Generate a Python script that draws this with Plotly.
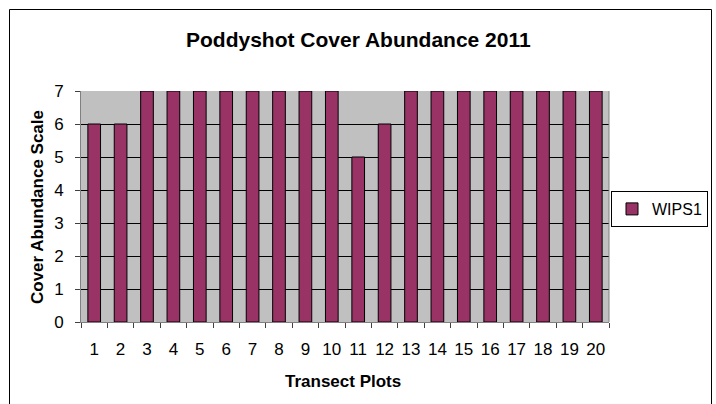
import plotly.graph_objects as go

plots = [str(i) for i in range(1, 21)]
wips1 = [6, 6, 7, 7, 7, 7, 7, 7, 7, 7, 5, 6, 7, 7, 7, 7, 7, 7, 7, 7]
y_ticks = [0, 1, 2, 3, 4, 5, 6, 7]

W, H = 716, 404
L, R, T, B = 81, 609, 91, 322
pw, ph = R - L, B - T

def px(x):
    return (x - L) / pw

def py(y):
    return (B - y) / ph

FONT = "Liberation Sans, Arial, sans-serif"

fig = go.Figure()
fig.add_trace(go.Bar(
    x=plots, y=wips1, name="WIPS1",
    marker=dict(color="#993366", line=dict(color="#000000", width=1)),
))

fig.update_layout(
    width=W, height=H,
    margin=dict(l=L, r=W - R, t=T, b=H - B, autoexpand=False),
    paper_bgcolor="white", plot_bgcolor="#C0C0C0",
    font=dict(family=FONT, size=16, color="black"),
    bargap=0.52,
    showlegend=True,
    legend=dict(x=px(708), y=py(191), xanchor="right", yanchor="top",
                bordercolor="black", borderwidth=1, bgcolor="white",
                font=dict(size=16), itemwidth=30,
                tracegroupgap=0),
    xaxis=dict(type="category", showgrid=False, ticks="outside", ticklen=5,
               tickson="boundaries", tickcolor="#404040", tickangle=0,
               showline=True, linecolor="#808080", linewidth=1,
               tickfont=dict(size=17), ticklabelstandoff=12, fixedrange=True),
    yaxis=dict(range=[0, 7], tickvals=y_ticks, showgrid=True, gridcolor="black",
               gridwidth=1, ticks="outside", ticklen=5, tickcolor="#404040",
               showline=True, linecolor="#808080", linewidth=1,
               tickfont=dict(size=17), ticklabelstandoff=8, zeroline=False,
               fixedrange=True),
    shapes=[dict(type="rect", xref="paper", yref="paper",
                 x0=px(9.5), x1=px(711.5), y0=py(430), y1=py(9.5),
                 line=dict(color="black", width=1), fillcolor="rgba(0,0,0,0)",
                 layer="above"),
            dict(type="line", xref="paper", yref="paper", x0=1, x1=1, y0=0, y1=1,
                 line=dict(color="#808080", width=1))],
    annotations=[
        dict(text="<b>Poddyshot Cover Abundance 2011</b>", xref="paper", yref="paper",
             x=px(358), y=py(39), xanchor="center", yanchor="middle",
             showarrow=False, font=dict(size=21)),
        dict(text="<b>Transect Plots</b>", xref="paper", yref="paper",
             x=px(343), y=py(381), xanchor="center", yanchor="middle",
             showarrow=False, font=dict(size=17)),
        dict(text="<b>Cover Abundance Scale</b>", xref="paper", yref="paper",
             x=px(37), y=py(207), xanchor="center", yanchor="middle",
             textangle=-90, showarrow=False, font=dict(size=17)),
    ],
)

fig.write_html("out.html")
